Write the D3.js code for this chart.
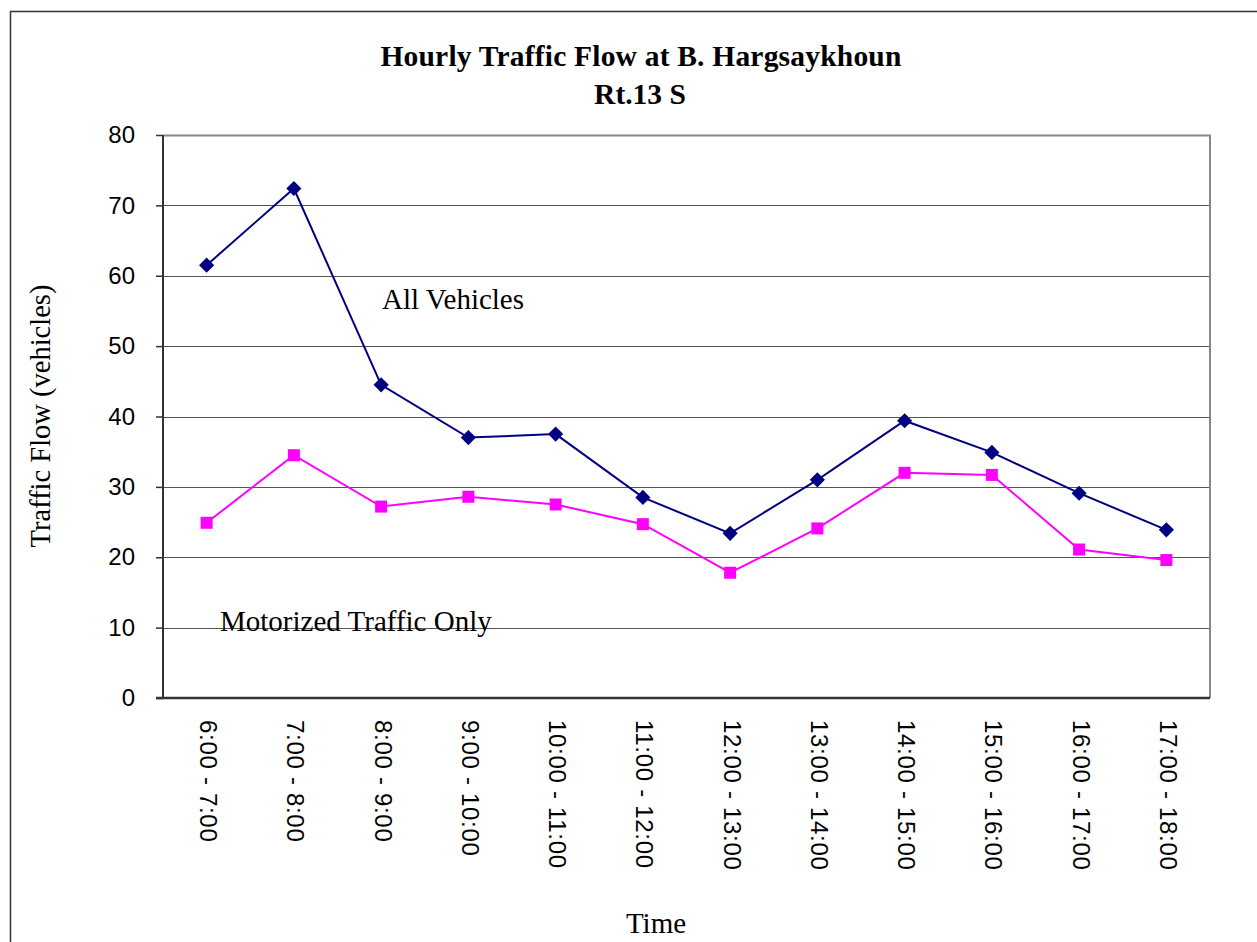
<!DOCTYPE html>
<html>
<head>
<meta charset="utf-8">
<script src="https://cdn.jsdelivr.net/npm/d3@7"></script>
<style>
  body { margin: 0; background: #fff; }
  svg { display: block; }
</style>
</head>
<body>
<div id="chart"></div>
<script>
// data
var timeSlots = ["6:00 - 7:00", "7:00 - 8:00", "8:00 - 9:00", "9:00 - 10:00",
  "10:00 - 11:00", "11:00 - 12:00", "12:00 - 13:00", "13:00 - 14:00",
  "14:00 - 15:00", "15:00 - 16:00", "16:00 - 17:00", "17:00 - 18:00"];
var allVehicles = [61.5, 72.4, 44.5, 37.0, 37.5, 28.5, 23.4, 31.0, 39.4, 34.9, 29.1, 23.9];
var motorized = [24.9, 34.5, 27.2, 28.6, 27.5, 24.7, 17.8, 24.1, 32.0, 31.7, 21.1, 19.6];
var yTicks = [0, 10, 20, 30, 40, 50, 60, 70, 80];

var svgWidth = 1257;
var svgHeight = 942;

var margin = { top: 135, left: 163, right: 47, bottom: 244 };
var chartWidth = svgWidth - margin.left - margin.right;
var chartHeight = svgHeight - margin.top - margin.bottom;

var svg = d3.select("#chart")
  .append("svg")
  .attr("width", svgWidth)
  .attr("height", svgHeight);

// outer frame (runs off the right and bottom edges)
svg.append("rect")
  .attr("x", 10.5)
  .attr("y", 11.5)
  .attr("width", 1400)
  .attr("height", 1200)
  .style("fill", "none")
  .style("stroke", "#333")
  .style("stroke-width", 1.5);

var chartGroup = svg.append("g")
  .attr("transform", `translate(${margin.left}, ${margin.top})`);

var xScale = d3.scaleBand()
  .domain(timeSlots)
  .range([0, chartWidth]);

var yScale = d3.scaleLinear()
  .domain([0, 80])
  .range([chartHeight, 0]);

// gridlines
chartGroup.append("g")
  .selectAll("line")
  .data(yTicks.filter(d => d > 0 && d < 80))
  .enter()
  .append("line")
  .attr("x1", 0)
  .attr("x2", chartWidth)
  .attr("y1", d => Math.round(yScale(d)) + 0.5)
  .attr("y2", d => Math.round(yScale(d)) + 0.5)
  .style("stroke", "#555")
  .style("stroke-width", 1);

// top and right border of plot area
chartGroup.append("path")
  .attr("d", `M0,0.5H${chartWidth}V${chartHeight}`)
  .style("fill", "none")
  .style("stroke", "#888")
  .style("stroke-width", 2);

// y axis
var leftAxis = d3.axisLeft(yScale)
  .tickValues(yTicks)
  .tickSize(7)
  .tickPadding(21);

var yAxis = chartGroup.append("g")
  .call(leftAxis);
yAxis.select(".domain").remove();
yAxis.append("line")
  .attr("x1", 0).attr("x2", 0)
  .attr("y1", 0).attr("y2", chartHeight)
  .style("stroke", "#333").style("stroke-width", 2);
yAxis.selectAll(".tick line").style("stroke", "#333").style("stroke-width", 1.5);
yAxis.selectAll("text")
  .style("font-family", "Arial, 'Liberation Sans', sans-serif")
  .style("font-size", "24px")
  .style("fill", "#000");

// x axis
var bottomAxis = d3.axisBottom(xScale).tickSize(0).tickPadding(0);
var xAxis = chartGroup.append("g")
  .attr("transform", `translate(0, ${chartHeight})`)
  .call(bottomAxis);
xAxis.select(".domain").remove();
xAxis.append("line")
  .attr("x1", -7).attr("x2", chartWidth)
  .attr("y1", 0).attr("y2", 0)
  .style("stroke", "#333").style("stroke-width", 2.5);
xAxis.selectAll("text")
  .attr("transform", "rotate(90)")
  .attr("x", 22)
  .attr("y", -2)
  .attr("dy", "0.35em")
  .style("text-anchor", "start")
  .style("font-family", "Arial, 'Liberation Sans', sans-serif")
  .style("font-size", "24px")
  .style("letter-spacing", "0.7px")
  .style("fill", "#000");

var cx = d => xScale(d) + xScale.bandwidth() / 2;

var line = d3.line()
  .x(d => cx(d.slot))
  .y(d => yScale(d.value));

var allData = timeSlots.map((s, i) => ({ slot: s, value: allVehicles[i] }));
var motorData = timeSlots.map((s, i) => ({ slot: s, value: motorized[i] }));

// magenta series
chartGroup.append("path")
  .datum(motorData)
  .attr("d", line)
  .style("fill", "none")
  .style("stroke", "#FF00FF")
  .style("stroke-width", 2);

chartGroup.append("g")
  .selectAll("rect")
  .data(motorData)
  .enter()
  .append("rect")
  .attr("x", d => cx(d.slot) - 6)
  .attr("y", d => yScale(d.value) - 6)
  .attr("width", 12)
  .attr("height", 12)
  .style("fill", "#FF00FF");

// navy series
chartGroup.append("path")
  .datum(allData)
  .attr("d", line)
  .style("fill", "none")
  .style("stroke", "#000080")
  .style("stroke-width", 2);

chartGroup.append("g")
  .selectAll("path")
  .data(allData)
  .enter()
  .append("path")
  .attr("d", d3.symbol().type(d3.symbolSquare).size(115))
  .attr("transform", d => `translate(${cx(d.slot)}, ${yScale(d.value)}) rotate(45)`)
  .style("fill", "#000080");

// titles
var serif = "'Times New Roman', 'Liberation Serif', serif";

svg.append("text")
  .attr("x", 641)
  .attr("y", 66)
  .attr("text-anchor", "middle")
  .style("font-family", serif)
  .style("font-weight", "bold")
  .style("font-size", "29.5px")
  .style("letter-spacing", "0.2px")
  .text("Hourly Traffic Flow at B. Hargsaykhoun");

svg.append("text")
  .attr("x", 640)
  .attr("y", 104)
  .attr("text-anchor", "middle")
  .style("font-family", serif)
  .style("font-weight", "bold")
  .style("font-size", "29.5px")
  .text("Rt.13 S");

svg.append("text")
  .attr("transform", "translate(50, 416) rotate(-90)")
  .attr("text-anchor", "middle")
  .style("font-family", serif)
  .style("font-size", "28.5px")
  .text("Traffic Flow (vehicles)");

svg.append("text")
  .attr("x", 656)
  .attr("y", 933)
  .attr("text-anchor", "middle")
  .style("font-family", serif)
  .style("font-size", "29px")
  .text("Time");

// series annotations
svg.append("text")
  .attr("x", 382)
  .attr("y", 309)
  .style("font-family", serif)
  .style("font-size", "29px")
  .text("All Vehicles");

svg.append("text")
  .attr("x", 220)
  .attr("y", 631)
  .style("font-family", serif)
  .style("font-size", "29px")
  .text("Motorized Traffic Only");
</script>
</body>
</html>
